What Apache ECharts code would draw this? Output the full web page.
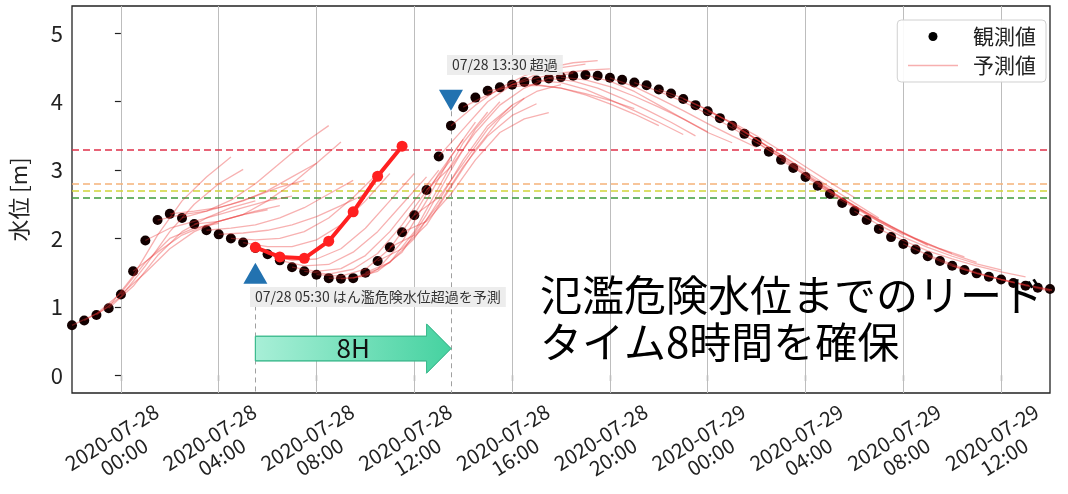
<!DOCTYPE html>
<html><head><meta charset="utf-8">
<script src="https://cdn.jsdelivr.net/npm/echarts@6/dist/echarts.min.js"></script>
<style>html,body{margin:0;padding:0;background:#fff}#c{width:1068px;height:494px}</style>
</head><body><div id="c"></div>
<script>
// hours relative to 2020-07-28 00:00
const obsStart = -2, obsStep = 0.5;
const observed = [0.73,0.80,0.88,0.98,1.18,1.52,1.97,2.27,2.36,2.30,2.21,2.12,2.06,2.00,1.94,1.86,1.77,1.68,1.58,1.52,1.47,1.42,1.41,1.42,1.50,1.67,1.87,2.09,2.34,2.71,3.20,3.65,3.92,4.06,4.16,4.21,4.25,4.29,4.31,4.34,4.36,4.38,4.39,4.38,4.35,4.32,4.28,4.24,4.18,4.12,4.04,3.95,3.86,3.76,3.65,3.53,3.41,3.27,3.15,3.03,2.90,2.77,2.65,2.52,2.40,2.27,2.14,2.02,1.92,1.84,1.74,1.67,1.60,1.54,1.49,1.44,1.40,1.35,1.31,1.28,1.26];
const tickValues = [0,4,8,12,16,20,24,28,32,36];
const tickLabels = ['2020-07-28\n00:00','2020-07-28\n04:00','2020-07-28\n08:00','2020-07-28\n12:00','2020-07-28\n16:00','2020-07-28\n20:00','2020-07-29\n00:00','2020-07-29\n04:00','2020-07-29\n08:00','2020-07-29\n12:00'];
const yTicks = [0,1,2,3,4,5];
const thresholds = [3.3, 2.8, 2.7, 2.6];
const thresholdColors = ['#e0304a','#f5b27a','#cfd43a','#3d9a3d'];
const forecastIssue = [-2,-1.5,-1,-0.5,0,0.5,1,1.5,2,2.5,3,3.5,4,4.5,5,6,6.5,7,7.5,8,8.5,9,9.5,10,10.5,11,11.5,12,12.5,13,13.5,14,15,16,17,17.5,18,19,20,21,22,23,24,25,26,27,28,28.5,29,30,31,32,33,34];
const forecastValues = [
 [0.73,0.90,1.20,1.65,2.00,2.15,2.22],
 [0.80,1.00,1.45,2.05,2.55,2.90,3.19],
 [0.88,1.15,1.60,2.10,2.50,2.80,3.01],
 [0.98,1.30,1.75,2.10,2.30,2.45,2.55],
 [1.18,1.50,1.85,2.10,2.25,2.35,2.42],
 [1.52,1.80,2.05,2.20,2.30,2.40,2.48],
 [1.97,2.15,2.25,2.35,2.45,2.55,2.62],
 [2.27,2.35,2.40,2.50,2.62,2.75,2.85],
 [2.36,2.40,2.45,2.55,2.70,2.90,3.10],
 [2.30,2.40,2.56,2.80,3.10,3.40,3.65],
 [2.21,2.25,2.35,2.55,2.80,3.10,3.41],
 [2.12,2.15,2.20,2.30,2.45,2.65,2.85],
 [2.06,2.08,2.12,2.20,2.32,2.48,2.65],
 [2.00,1.98,2.00,2.10,2.30,2.60,2.95],
 [1.94,1.88,1.88,1.98,2.20,2.55,2.95],
 [1.77,1.68,1.70,1.85,2.15,2.55,2.95],
 [1.68,1.60,1.62,1.80,2.10,2.50,2.90],
 [1.58,1.52,1.56,1.75,2.10,2.55,3.00],
 [1.52,1.48,1.55,1.78,2.20,2.70,3.15],
 [1.47,1.45,1.55,1.85,2.35,2.95,3.45],
 [1.42,1.42,1.55,1.95,2.55,3.20,3.70],
 [1.41,1.45,1.65,2.10,2.75,3.40,3.85],
 [1.42,1.52,1.80,2.35,3.00,3.60,4.00],
 [1.50,1.65,2.00,2.55,3.15,3.65,3.95],
 [1.67,1.85,2.20,2.75,3.30,3.75,4.05],
 [1.87,2.05,2.50,3.05,3.50,3.80,3.97],
 [2.09,2.25,2.65,3.15,3.55,3.75,3.84],
 [2.34,2.60,3.10,3.60,3.95,4.15,4.25],
 [2.71,3.05,3.55,3.95,4.20,4.35,4.42],
 [3.20,3.60,4.00,4.25,4.40,4.50,4.55],
 [3.65,3.95,4.20,4.38,4.50,4.57,4.60],
 [3.92,4.10,4.25,4.35,4.42,4.46,4.48],
 [4.16,4.22,4.24,4.20,4.12,4.02,3.90],
 [4.25,4.25,4.20,4.10,3.97,3.82,3.65],
 [4.31,4.28,4.18,4.03,3.87,3.70,3.52],
 [4.34,4.30,4.20,4.05,3.88,3.70,3.50],
 [4.36,4.32,4.22,4.08,3.92,3.75,3.56],
 [4.39,4.30,4.15,3.95,3.75,3.55,3.40],
 [4.35,4.22,4.05,3.87,3.68,3.50,3.33],
 [4.28,4.15,4.00,3.82,3.62,3.40,3.18],
 [4.18,4.05,3.88,3.68,3.45,3.22,3.00],
 [4.04,3.88,3.68,3.45,3.20,2.95,2.72],
 [3.86,3.70,3.50,3.28,3.05,2.82,2.60],
 [3.65,3.45,3.22,2.98,2.75,2.52,2.30],
 [3.41,3.18,2.93,2.70,2.47,2.25,2.05],
 [3.15,2.92,2.70,2.48,2.27,2.08,1.90],
 [2.90,2.68,2.47,2.27,2.08,1.92,1.78],
 [2.77,2.58,2.38,2.18,2.00,1.85,1.73],
 [2.65,2.45,2.25,2.07,1.91,1.77,1.65],
 [2.40,2.20,2.02,1.87,1.74,1.63,1.54],
 [2.14,1.97,1.82,1.70,1.60,1.51,1.44],
 [1.92,1.76,1.62,1.50,1.40,1.31,1.23],
 [1.74,1.60,1.49,1.40,1.32,1.25,1.19],
 [1.60,1.49,1.40,1.32,1.25,1.19,1.14]
];
const boldIssue = 5.5;
const boldValues = [1.87,1.73,1.71,1.96,2.39,2.91,3.35];
const predictTime = 5.5, exceedTime = 13.5;
const markerLevels = [1.49, 4.02];
const leadLabel = '8H';
const predictText = '07/28 05:30 はん濫危険水位超過を予測';
const exceedText = '07/28 13:30 超過';
const noteLines = ['氾濫危険水位までのリード', 'タイム8時間を確保'];

const FONT = '"Noto Sans CJK JP", "Noto Sans", sans-serif';
const FC = 'rgba(235,50,50,0.38)';
const chart = echarts.init(document.getElementById('c'));
const obsData = observed.map((v, i) => [obsStart + i * obsStep, v]);

const series = [];
series.push({
  type: 'line', data: obsData, symbol: 'none', silent: true, z: 1,
  lineStyle: { opacity: 0 },
  markLine: {
    z: 1, silent: true, symbol: ['none', 'none'], label: { show: false }, animation: false,
    data: [
      ...tickValues.map(v => ({ xAxis: v, lineStyle: { color: '#bdbdbd', width: 1, type: 'solid' } })),
      ...thresholds.map((v, i) => ({ yAxis: v, lineStyle: { color: thresholdColors[i], width: 1.6, type: [7, 4] } })),
      [{ coord: [predictTime, 1.02], lineStyle: { color: '#a0a0a0', width: 1, type: [5, 4] } }, { coord: [predictTime, -0.26] }],
      [{ coord: [exceedTime, 3.86], lineStyle: { color: '#a0a0a0', width: 1, type: [5, 4] } }, { coord: [exceedTime, -0.26] }]
    ]
  }
});
series.push({
  type: 'scatter', name: '観測値', data: obsData, symbolSize: 10, z: 3,
  itemStyle: { color: '#120000', opacity: 1 }
});
forecastIssue.forEach((t0, k) => {
  series.push({
    type: 'line', name: '予測値', symbol: 'none', silent: true, z: 4,
    data: forecastValues[k].map((v, i) => [t0 + i, v]),
    itemStyle: { color: FC },
    lineStyle: { color: FC, width: 1.3 }
  });
});
series.push({
  type: 'line', data: boldValues.map((v, i) => [boldIssue + i, v]), symbol: 'circle', symbolSize: 11, z: 6,
  lineStyle: { color: '#ff2020', width: 4 }, itemStyle: { color: '#ff2020', opacity: 1 }
});
series.push({
  type: 'scatter', data: [[predictTime, markerLevels[0]]], symbol: 'triangle', symbolSize: [24, 21], z: 7,
  itemStyle: { color: '#2272b0', opacity: 1 }
});
series.push({
  type: 'scatter', data: [[exceedTime, markerLevels[1]]], symbol: 'triangle', symbolRotate: 180, symbolSize: [24, 21], z: 7,
  itemStyle: { color: '#2272b0', opacity: 1 }
});
series.push({
  type: 'custom', z: 7, data: [[predictTime, exceedTime]],
  renderItem: function (params, api) {
    const x0 = api.value(0), x1 = api.value(1), hs = x1 - 1.0;
    const p = (x, y) => api.coord([x, y]);
    const pts = [p(x0, 0.57), p(hs, 0.57), p(hs, 0.75), p(x1, 0.39), p(hs, 0.03), p(hs, 0.21), p(x0, 0.21)];
    const c = p((x0 + x1) / 2, 0.39);
    return {
      type: 'group', children: [
        { type: 'polygon', shape: { points: pts }, style: {
          fill: new echarts.graphic.LinearGradient(0, 0, 1, 0, [{ offset: 0, color: '#a8efd7' }, { offset: 1, color: '#45d2a0' }]),
          stroke: '#3dbb8f', lineWidth: 1 } },
        { type: 'text', x: c[0], y: c[1], style: { text: leadLabel, font: '26px ' + FONT, fill: '#111', align: 'center', verticalAlign: 'middle' } }
      ]
    };
  }
});

const baseGraphic = [
  { type: 'text', left: 250, top: 287, z: 20, style: { text: predictText, font: '14px ' + FONT, fill: '#333', backgroundColor: 'rgba(236,236,236,0.92)', padding: [3, 5] } },
  { type: 'text', left: 447, top: 55, z: 20, style: { text: exceedText, font: '14px ' + FONT, fill: '#333', backgroundColor: 'rgba(236,236,236,0.92)', padding: [3, 5] } },
  { type: 'text', left: 540, top: 274, z: 20, style: { text: noteLines[0], font: '42px ' + FONT, fill: '#000' } },
  { type: 'text', left: 540, top: 321, z: 20, style: { text: noteLines[1], font: '42px ' + FONT, fill: '#000' } }
];

chart.setOption({
  animation: false,
  grid: { left: 72, right: 18, top: 6, bottom: 101, show: true, borderColor: '#222', borderWidth: 1.3, backgroundColor: 'transparent' },
  legend: {
    data: [
      { name: '観測値', icon: 'circle', itemStyle: { color: '#000', opacity: 1 } },
      { name: '予測値', itemStyle: { opacity: 0 }, lineStyle: { color: 'rgba(235,55,55,0.4)', width: 1.5 } }
    ],
    orient: 'vertical', right: 22, top: 20,
    itemWidth: 50, itemHeight: 9, itemGap: 8, padding: [6, 10, 6, 10],
    backgroundColor: 'rgba(255,255,255,0.9)', borderColor: '#d0d0d0', borderWidth: 1, borderRadius: 4,
    textStyle: { fontSize: 21, fontFamily: FONT, color: '#222', padding: [0, 0, 0, 10] }
  },
  xAxis: {
    type: 'value', min: -2, max: 38,
    axisLine: { show: false }, splitLine: { show: false },
    axisTick: { show: true, customValues: tickValues, length: 6, lineStyle: { color: '#222', width: 1.2 } },
    axisLabel: { show: false }
  },
  yAxis: {
    type: 'value', min: -0.26, max: 5.4,
    name: '水位 [m]', nameLocation: 'middle', nameGap: 42, nameTextStyle: { fontSize: 22, color: '#222', fontFamily: FONT },
    axisLine: { show: false }, splitLine: { show: false },
    axisTick: { show: true, customValues: yTicks, length: 6, lineStyle: { color: '#222', width: 1.2 } },
    axisLabel: { customValues: yTicks, formatter: v => String(v), margin: 9, fontSize: 22, color: '#222', fontFamily: FONT }
  },
  graphic: baseGraphic,
  series: series
});

// rotated, centred x tick labels placed at the axis' own pixel positions
const labelGraphic = tickValues.map((v, i) => {
  const px = chart.convertToPixel({ xAxisIndex: 0 }, v);
  return {
    type: 'text', x: px - 3, y: 447, rotation: 32 * Math.PI / 180, z: 20, silent: true,
    style: { text: tickLabels[i], font: '20.5px ' + FONT, fill: '#222', align: 'center', verticalAlign: 'middle', lineHeight: 23 }
  };
});
chart.setOption({ graphic: baseGraphic.concat(labelGraphic) });
</script></body></html>
